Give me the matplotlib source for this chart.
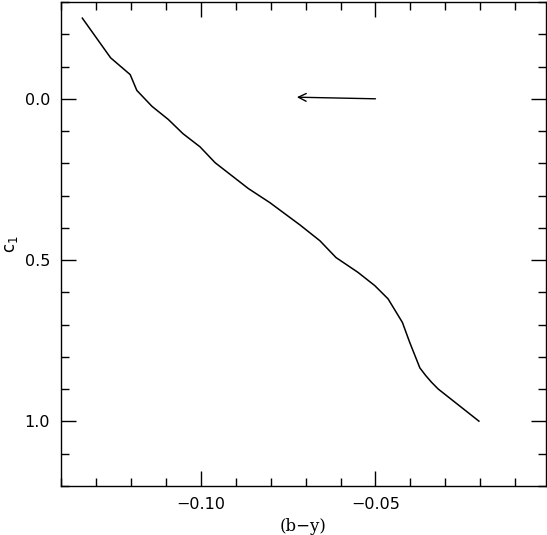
import matplotlib.pyplot as plt
from matplotlib.ticker import MultipleLocator

# sequence track
b_y = [-0.1339, -0.1258, -0.1202, -0.1183, -0.1140, -0.1093, -0.1051, -0.1002,
       -0.0959, -0.0864, -0.0802, -0.0716, -0.0659, -0.0613, -0.0550, -0.0502,
       -0.0464, -0.0423, -0.0402, -0.0373, -0.0356, -0.0340, -0.0321, -0.0204]
c1 = [-0.250, -0.127, -0.075, -0.026, 0.023, 0.064, 0.108, 0.149,
      0.198, 0.278, 0.322, 0.391, 0.440, 0.492, 0.538, 0.579,
      0.620, 0.693, 0.755, 0.834, 0.858, 0.878, 0.899, 0.999]

# arrow: tail, head
arrow_tail = (-0.050, 0.000)
arrow_head = (-0.0725, -0.005)

plt.rcParams['font.family'] = ['DejaVu Sans']
fig = plt.figure(figsize=(5.47, 5.35), dpi=100)
ax = fig.add_axes([61 / 547, 49 / 535, 485 / 547, 484 / 535])

ax.plot(b_y, c1, color='black', lw=1.1)
ax.annotate('', xy=arrow_head, xytext=arrow_tail,
            arrowprops=dict(arrowstyle='->', color='black', lw=1.0,
                            mutation_scale=14, shrinkA=0, shrinkB=0))

ax.set_xlim(-0.14, -0.0012)
ax.set_ylim(1.2, -0.3)
ax.xaxis.set_major_locator(MultipleLocator(0.05))
ax.xaxis.set_minor_locator(MultipleLocator(0.01))
ax.yaxis.set_major_locator(MultipleLocator(0.5))
ax.yaxis.set_minor_locator(MultipleLocator(0.1))
ax.xaxis.set_major_formatter(plt.FuncFormatter(lambda v, p: ('%.2f' % v).replace('-', '\u2212')))
ax.yaxis.set_major_formatter(plt.FuncFormatter(lambda v, p: '%.1f' % v))
ax.tick_params(which='both', direction='in', top=True, right=True,
               labelsize=11.5, width=1.0)
ax.tick_params(which='major', length=11, pad=8)
ax.tick_params(which='minor', length=6)
for s in ax.spines.values():
    s.set_linewidth(1.0)

ax.set_xlabel('(b\u2212y)', fontsize=12, family='DejaVu Serif', labelpad=4)
ax.set_ylabel('c$_1$', fontsize=12, labelpad=3)

fig.savefig('out.png', dpi=100)
